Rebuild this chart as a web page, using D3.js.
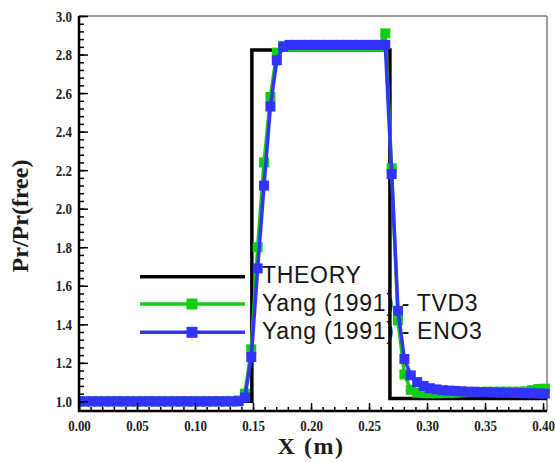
<!DOCTYPE html>
<html>
<head>
<meta charset="utf-8">
<script src="https://cdn.jsdelivr.net/npm/d3@7"></script>
<style>
  html, body { margin: 0; padding: 0; background: #fff; }
  svg { display: block; }
</style>
</head>
<body>
<svg id="chart" width="555" height="462"></svg>
<script>
// Grid positions along the tube (m)
const xPos = [0, 0.0055, 0.011, 0.0165, 0.022, 0.0275, 0.033, 0.0385, 0.044, 0.0495,
  0.055, 0.0605, 0.066, 0.0715, 0.077, 0.0825, 0.088, 0.0935, 0.099, 0.1045,
  0.11, 0.1155, 0.121, 0.1265, 0.132, 0.1375, 0.143, 0.1485, 0.154, 0.1595,
  0.165, 0.1705, 0.176, 0.1815, 0.187, 0.1925, 0.198, 0.2035, 0.209, 0.2145,
  0.22, 0.2255, 0.231, 0.2365, 0.242, 0.2475, 0.253, 0.2585, 0.264, 0.2695,
  0.275, 0.2805, 0.286, 0.2915, 0.297, 0.3025, 0.308, 0.3135, 0.319, 0.3245,
  0.33, 0.3355, 0.341, 0.3465, 0.352, 0.3575, 0.363, 0.3685, 0.374, 0.3795,
  0.385, 0.3905, 0.396, 0.4015];

// Yang (1991) TVD3 pressure ratio
const tvd3 = [1.0, 1.0, 1.0, 1.0, 1.0, 1.0, 1.0, 1.0, 1.0, 1.0,
  1.0, 1.0, 1.0, 1.0, 1.0, 1.0, 1.0, 1.0, 1.0, 1.0,
  1.0, 1.0, 1.0, 1.0, 1.0, 1.005, 1.04, 1.27, 1.80, 2.24,
  2.58, 2.81, 2.845, 2.84, 2.84, 2.84, 2.84, 2.84, 2.84, 2.84,
  2.84, 2.84, 2.84, 2.84, 2.84, 2.84, 2.84, 2.84, 2.91, 2.21,
  1.42, 1.14, 1.06, 1.045, 1.043, 1.042, 1.042, 1.043, 1.044, 1.045,
  1.047, 1.048, 1.048, 1.049, 1.05, 1.05, 1.05, 1.05, 1.05, 1.05,
  1.052, 1.058, 1.064, 1.066];

// Yang (1991) ENO3 pressure ratio
const eno3 = [1.0, 1.0, 1.0, 1.0, 1.0, 1.0, 1.0, 1.0, 1.0, 1.0,
  1.0, 1.0, 1.0, 1.0, 1.0, 1.0, 1.0, 1.0, 1.0, 1.0,
  1.0, 1.0, 1.0, 1.0, 1.0, 1.0, 1.02, 1.23, 1.69, 2.12,
  2.53, 2.77, 2.84, 2.85, 2.85, 2.85, 2.85, 2.85, 2.85, 2.85,
  2.85, 2.85, 2.85, 2.85, 2.85, 2.85, 2.85, 2.85, 2.85, 2.18,
  1.47, 1.22, 1.135, 1.10, 1.08, 1.068, 1.062, 1.058, 1.056, 1.054,
  1.052, 1.05, 1.05, 1.048, 1.047, 1.046, 1.045, 1.045, 1.044, 1.043,
  1.042, 1.042, 1.041, 1.04];

// Exact shock-tube solution (step profile)
const theoryX = [0, 0.149, 0.149, 0.268, 0.268, 0.4034];
const theoryY = [1.0, 1.0, 2.823, 2.823, 1.015, 1.015];

const xTicks = [0, 0.05, 0.10, 0.15, 0.20, 0.25, 0.30, 0.35, 0.40];
const yTicks = [1.0, 1.2, 1.4, 1.6, 1.8, 2.0, 2.2, 2.4, 2.6, 2.8, 3.0];

const legendLabels = ["THEORY", "Yang (1991) - TVD3", "Yang (1991) - ENO3"];
const seriesColors = ["#000000", "#14cc14", "#3333ff"];

const svg = d3.select("#chart");
const plotL = 79, plotR = 547, plotT = 16, plotB = 411;

const x = d3.scaleLinear().domain([0, 0.4034]).range([plotL, plotR]);
const y = d3.scaleLinear().domain([0.95, 3.0]).range([plotB, plotT]);

svg.append("defs").append("clipPath").attr("id", "plotClip")
  .append("rect").attr("x", plotL).attr("y", plotT - 6)
  .attr("width", plotR - plotL + 4).attr("height", plotB - plotT + 6);

// Frame: grey top and right edges
svg.append("line").attr("x1", plotL).attr("x2", plotR).attr("y1", plotT).attr("y2", plotT)
  .attr("stroke", "#7a7a7a").attr("stroke-width", 1.5);
svg.append("line").attr("x1", plotR).attr("x2", plotR).attr("y1", plotT).attr("y2", plotB)
  .attr("stroke", "#7a7a7a").attr("stroke-width", 1.5);

const plot = svg.append("g").attr("clip-path", "url(#plotClip)");

const line = d3.line().x(d => x(d[0])).y(d => y(d[1]));

// Theory
plot.append("path")
  .datum(theoryX.map((v, i) => [v, theoryY[i]]))
  .attr("d", line).attr("fill", "none")
  .attr("stroke", seriesColors[0]).attr("stroke-width", 3.5);

// Numerical series with square markers
function drawSeries(vals, color) {
  const pts = xPos.map((v, i) => [v, vals[i]]);
  plot.append("path").datum(pts).attr("d", line).attr("fill", "none")
    .attr("stroke", color).attr("stroke-width", 3.5);
  const ms = 10;
  plot.selectAll(null).data(pts).enter().append("rect")
    .attr("x", d => x(d[0]) - ms / 2).attr("y", d => y(d[1]) - ms / 2)
    .attr("width", ms).attr("height", ms).attr("fill", color);
}
drawSeries(tvd3, seriesColors[1]);
drawSeries(eno3, seriesColors[2]);

// Axes: inward ticks with minors; labels slightly stretched vertically
const tickFont = "bold 13px 'Liberation Serif', 'Times New Roman', serif";
const xAxis = svg.append("g").attr("transform", `translate(0,${plotB})`)
  .call(d3.axisBottom(x).tickValues(d3.range(0, 0.4001, 0.01)).tickSize(-4).tickFormat(""));
xAxis.select(".domain").remove();
xAxis.selectAll(".tick line").attr("stroke", "#000").attr("stroke-width", 1.5);
const xMajor = svg.append("g").attr("transform", `translate(0,${plotB})`)
  .call(d3.axisBottom(x).tickValues(xTicks).tickSize(-8).tickPadding(0)
    .tickFormat(d3.format(".2f")));
xMajor.select(".domain").remove();
xMajor.selectAll(".tick line").attr("stroke", "#000").attr("stroke-width", 1.5);
xMajor.selectAll(".tick text").style("font", tickFont).attr("fill", "#1a1a1a")
  .attr("y", 0).attr("dy", 0).attr("transform", "translate(0,19.5) scale(1,1.17)");

const yAxis = svg.append("g").attr("transform", `translate(${plotL},0)`)
  .call(d3.axisLeft(y).tickValues(d3.range(1.0, 3.001, 0.04)).tickSize(-5).tickFormat(""));
yAxis.select(".domain").remove();
yAxis.selectAll(".tick line").attr("stroke", "#000").attr("stroke-width", 1.5);
const yMajor = svg.append("g").attr("transform", `translate(${plotL},0)`)
  .call(d3.axisLeft(y).tickValues(yTicks).tickSize(-9).tickPadding(0)
    .tickFormat(d3.format(".1f")));
yMajor.select(".domain").remove();
yMajor.selectAll(".tick line").attr("stroke", "#000").attr("stroke-width", 1.5);
yMajor.selectAll(".tick text").style("font", tickFont).attr("fill", "#1a1a1a")
  .attr("x", 0).attr("dy", 0).attr("transform", "translate(-7,5) scale(1,1.17)");

// Black left and bottom axis lines
svg.append("line").attr("x1", plotL).attr("x2", plotL).attr("y1", plotT).attr("y2", plotB + 1)
  .attr("stroke", "#000").attr("stroke-width", 2.5);
svg.append("line").attr("x1", plotL - 1).attr("x2", plotR).attr("y1", plotB).attr("y2", plotB)
  .attr("stroke", "#000").attr("stroke-width", 2.5);

// Axis titles
svg.append("text").attr("x", 311).attr("y", 454).attr("text-anchor", "middle")
  .style("font", "bold 24px 'Liberation Serif', 'Times New Roman', serif")
  .style("letter-spacing", "1.5px").attr("fill", "#1a1a1a").text("X (m)");
svg.append("text").attr("transform", "translate(28,216) rotate(-90)")
  .attr("text-anchor", "middle")
  .style("font", "bold 24px 'Liberation Serif', 'Times New Roman', serif")
  .attr("fill", "#1a1a1a").text("Pr/Pr(free)");

// Legend
const legendRows = [276.7, 304, 332.3];
legendLabels.forEach((lab, i) => {
  const ly = legendRows[i];
  svg.append("line").attr("x1", 140).attr("x2", 245).attr("y1", ly).attr("y2", ly)
    .attr("stroke", seriesColors[i]).attr("stroke-width", 3.5);
  if (i > 0) {
    svg.append("rect").attr("x", 192 - 5.5).attr("y", ly - 5.5)
      .attr("width", 11).attr("height", 11).attr("fill", seriesColors[i]);
  }
  svg.append("text").attr("x", 262).attr("y", ly + 6.5)
    .style("font", "23px 'Liberation Sans', Arial, sans-serif")
    .style("letter-spacing", "0.7px").attr("fill", "#151515").text(lab);
});
</script>
</body>
</html>
